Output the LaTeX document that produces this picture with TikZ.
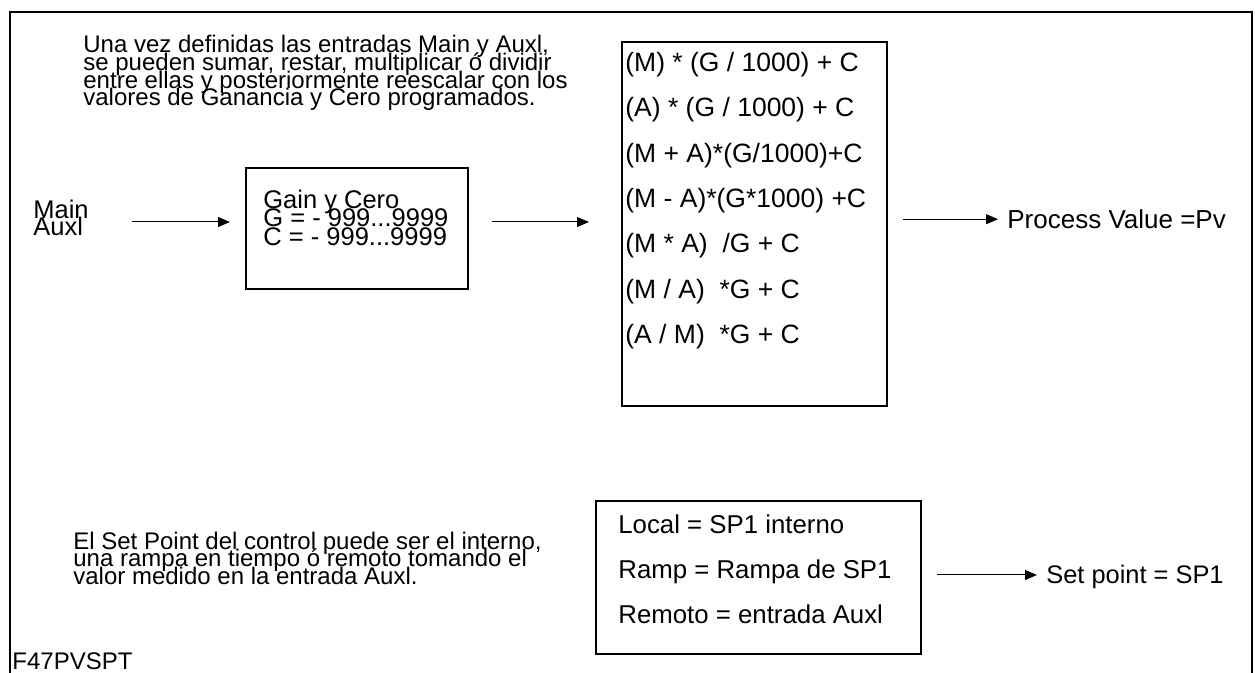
\documentclass[tikz,border=0pt]{standalone}
\usepackage{fontspec}
\setmainfont{Liberation Sans}
\usetikzlibrary{arrows.meta,positioning}
\newcommand\tightlines{\lineskiplimit=-\maxdimen}

\begin{document}
\begin{tikzpicture}[
        x=0.5pt, y=-0.5pt,
        frameline/.style={line width=1pt},
        box/.style={draw, line width=1pt, anchor=north west, inner sep=0pt},
        txt/.style={anchor=north west, align=left, inner sep=0pt, font=\fontsize{12.75}{8.5}\selectfont\tightlines},
        note/.style={txt, font=\fontsize{12}{8.85}\selectfont\tightlines},
        rows/.style={txt, font=\fontsize{13.25}{22.65}\selectfont},
        outlabel/.style={anchor=base west, inner xsep=4.5pt, inner ysep=0pt, font=\fontsize{13}{15}\selectfont},
        arr/.style={-{Triangle[length=6pt, width=5pt]}, line width=0.5pt}
    ]
    \useasboundingbox (0,0) rectangle (1255,673);
    % frame, open at the bottom
    \draw[frameline] (10,673) -- (10,12) -- (1252,12) -- (1252,673);

    % process value path
    \node[note] (intro) at (83,35) {Una vez definidas las entradas Main y Auxl,\\se pueden sumar, restar, multiplicar ó dividir\\entre ellas y posteriormente reescalar con los\\valores de Ganancia y Cero programados.};
    \node[txt] (inputs) at (33,199.5) {Main\\Auxl};
    \coordinate (a1) at (132,222);

    \node[box, minimum width=111pt, minimum height=60.5pt] (gain) at (245,167) {};
    \node[txt, font=\fontsize{12.75}{9.25}\selectfont\tightlines, below right=11.2pt and 9pt of gain.north west] (gainval) {Gain y Cero\\G = - 999...9999\\C = - 999...9999};

    \node[box, minimum width=132.5pt, minimum height=182pt] (ops) at (621,41) {};
    \node[rows, below right=5.5pt and 2pt of ops.north west] (formulas) {(M) * (G / 1000) + C\\(A) * (G / 1000) + C\\(M + A)*(G/1000)+C\\(M - A)*(G*1000) +C\\(M * A)\ \ /G + C\\(M / A)\ \ *G + C\\(A / M)\ \ *G + C};

    \node[outlabel] (pv) at (998,228.5) {Process Value =Pv};

    \draw[arr, shorten >=7.5pt] (a1) -- (a1 -| gain.west);
    \draw[arr, shorten <=11.5pt, shorten >=16pt] (gain.east |- a1) -- (ops.west |- a1);
    \draw[arr, shorten <=7.5pt] (ops.east |- pv.west) -- (pv.west);

    % set point path
    \node[note] (spnote) at (73,531.5) {El Set Point del control puede ser el interno,\\una rampa en tiempo ó remoto tomando el\\valor medido en la entrada Auxl.};
    \node[box, minimum width=162.5pt, minimum height=76.5pt] (spsel) at (595,500) {};
    \node[txt, font=\fontsize{12.9}{22.5}\selectfont, below right=7pt and 11.5pt of spsel.north west] (spopts) {Local = SP1 interno\\Ramp = Rampa de SP1\\Remoto = entrada Auxl};
    \node[outlabel, font=\fontsize{12.7}{15}\selectfont] (sp) at (1037,584) {Set point = SP1};
    \draw[arr, shorten <=7.5pt] (spsel.east |- 0,575) -- (sp.west |- 0,575);

    \node[anchor=base west, inner sep=0pt, font=\fontsize{12}{14}\selectfont] (figid) at (12,670) {F47PVSPT};
\end{tikzpicture}
\end{document}
